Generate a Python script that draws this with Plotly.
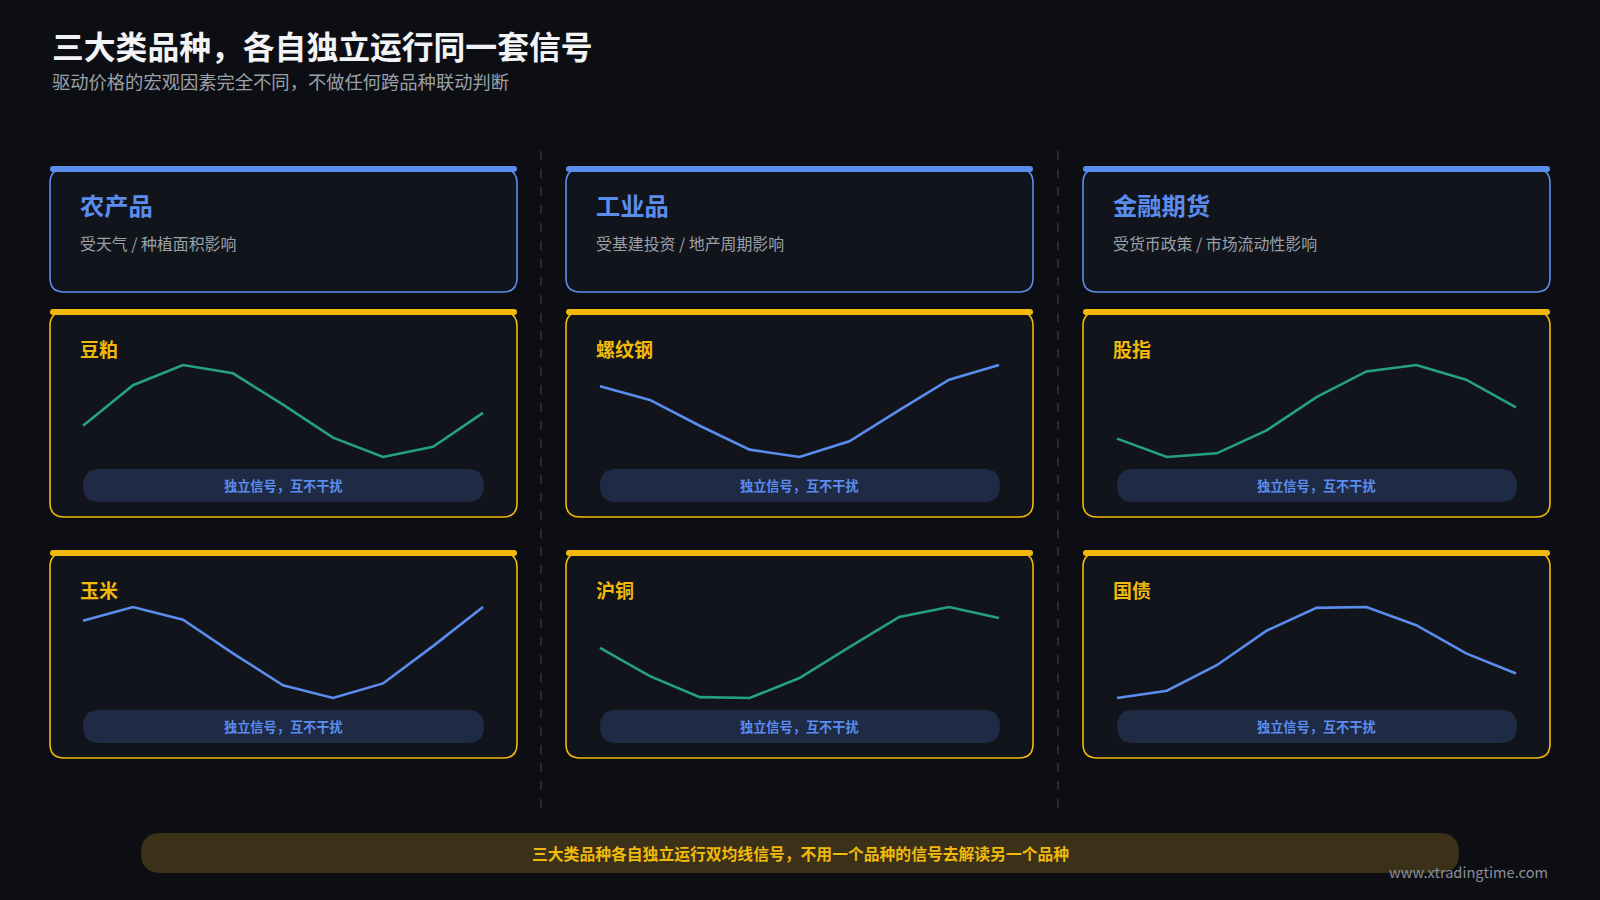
import plotly.graph_objects as go

# ---------------- data ----------------
periods = [1, 2, 3, 4, 5, 6, 7, 8, 9]

sector_names = ["农产品", "工业品", "金融期货"]
sector_desc = ["受天气 / 种植面积影响", "受基建投资 / 地产周期影响", "受货币政策 / 市场流动性影响"]

row1_names = ["豆粕", "螺纹钢", "股指"]
row2_names = ["玉米", "沪铜", "国债"]

soybean_meal = [34, 78, 100, 91, 57, 21, 0, 11, 48]
rebar = [77, 62, 34, 8, 0, 17, 51, 84, 100]
stock_index = [20, 0, 4, 29, 65, 93, 100, 84, 54]
corn = [85, 100, 86, 49, 14, 0, 16, 57, 100]
copper = [55, 24, 1, 0, 22, 56, 89, 100, 88]
treasury = [0, 8, 36, 74, 99, 100, 80, 49, 27]

title_text = "三大类品种，各自独立运行同一套信号"
subtitle_text = "驱动价格的宏观因素完全不同，不做任何跨品种联动判断"
pill_text = "独立信号，互不干扰"
banner_text = "三大类品种各自独立运行双均线信号，不用一个品种的信号去解读另一个品种"
watermark = "www.xtradingtime.com"

# ---------------- style ----------------
W, H = 1600, 900
BG = "#0d0e13"
CARD = "#11141b"
BLUE = "#5b8def"
YELLOW = "#f0b90b"
TEAL = "#26a085"
PILL = "#1f2a44"
GREY = "#9aa0a8"
FONT = "Noto Sans CJK SC"

col_x = [(50, 517), (566, 1033), (1083, 1550)]
chart_x = [(83, 483), (600, 999), (1117, 1516)]
header_y = (169, 292)
card_rows_y = [(312, 517), (553, 758)]
chart_rows_y = [(365, 457), (607, 698)]


def px(x):
    return x / W


def py(y):
    return 1 - y / H


def rrect(x0, y0, x1, y1, r):
    pts = [
        f"M {px(x0 + r)},{py(y0)}",
        f"L {px(x1 - r)},{py(y0)}",
        f"Q {px(x1)},{py(y0)} {px(x1)},{py(y0 + r)}",
        f"L {px(x1)},{py(y1 - r)}",
        f"Q {px(x1)},{py(y1)} {px(x1 - r)},{py(y1)}",
        f"L {px(x0 + r)},{py(y1)}",
        f"Q {px(x0)},{py(y1)} {px(x0)},{py(y1 - r)}",
        f"L {px(x0)},{py(y0 + r)}",
        f"Q {px(x0)},{py(y0)} {px(x0 + r)},{py(y0)}",
        "Z",
    ]
    return " ".join(pts)


shapes = []
annotations = []


def card(x0, y0, x1, y1, color):
    shapes.append(dict(type="path", xref="paper", yref="paper", layer="below",
                       path=rrect(x0, y0, x1, y1, 14), fillcolor=CARD,
                       line=dict(color=color, width=1.6)))
    shapes.append(dict(type="path", xref="paper", yref="paper", layer="below",
                       path=rrect(x0, y0 - 3, x1, y0 + 3, 3), fillcolor=color,
                       line=dict(width=0)))


def text(x, y, s, size, color, weight="normal", xanchor="left"):
    annotations.append(dict(x=px(x), y=py(y), xref="paper", yref="paper", text=s,
                            showarrow=False, xanchor=xanchor, yanchor="middle",
                            font=dict(family=FONT, size=size, color=color, weight=weight)))


# title
text(50, 45, title_text, 31.8, "#f2f3f5", "bold")
text(50, 81, subtitle_text, 18.3, GREY)

# dividers
for dx in (541, 1058):
    shapes.append(dict(type="line", xref="paper", yref="paper", layer="below",
                       x0=px(dx), x1=px(dx), y0=py(151), y1=py(809),
                       line=dict(color="#3a3d46", width=1.2, dash="dash")))

# header cards
for i, (x0, x1) in enumerate(col_x):
    card(x0, header_y[0], x1, header_y[1], BLUE)
    text(x0 + 28, 204, sector_names[i], 24.3, BLUE, "bold")
    text(x0 + 28, 244, sector_desc[i], 15.9, GREY)

# mini chart cards
series_rows = [[soybean_meal, rebar, stock_index], [corn, copper, treasury]]
names_rows = [row1_names, row2_names]
color_rows = [[TEAL, BLUE, TEAL], [BLUE, TEAL, BLUE]]

fig = go.Figure()
layout_axes = {}
pad = 8
k = 0
for r, (cy0, cy1) in enumerate(card_rows_y):
    for c, (x0, x1) in enumerate(col_x):
        card(x0, cy0, x1, cy1, YELLOW)
        text(x0 + 28, cy0 + 36, names_rows[r][c], 19, YELLOW, "bold")
        # pill
        pl, pr = chart_x[c]
        shapes.append(dict(type="path", xref="paper", yref="paper", layer="below",
                           path=rrect(pl, cy0 + 157, pr + 1, cy0 + 190, 16.5),
                           fillcolor=PILL, line=dict(width=0)))
        text((pl + pr) / 2, cy0 + 173.5, pill_text, 13.2, BLUE, "bold", "center")

        # chart
        k += 1
        gx0, gx1 = chart_x[c]
        gy0, gy1 = chart_rows_y[r]
        xs = (periods[-1] - periods[0]) / (gx1 - gx0)
        ys = 100 / (gy1 - gy0)
        xa = "xaxis" if k == 1 else f"xaxis{k}"
        ya = "yaxis" if k == 1 else f"yaxis{k}"
        layout_axes[xa] = dict(domain=[px(gx0 - pad), px(gx1 + pad)],
                               range=[periods[0] - pad * xs, periods[-1] + pad * xs],
                               visible=False, fixedrange=True,
                               anchor="y" if k == 1 else f"y{k}")
        layout_axes[ya] = dict(domain=[py(gy1 + pad), py(gy0 - pad)],
                               range=[-pad * ys, 100 + pad * ys],
                               visible=False, fixedrange=True,
                               anchor="x" if k == 1 else f"x{k}")
        fig.add_trace(go.Scatter(x=periods, y=series_rows[r][c], mode="lines",
                                 line=dict(color=color_rows[r][c], width=2.6),
                                 xaxis="x" if k == 1 else f"x{k}",
                                 yaxis="y" if k == 1 else f"y{k}",
                                 hoverinfo="skip", showlegend=False))

# banner
shapes.append(dict(type="path", xref="paper", yref="paper", layer="below",
                   path=rrect(141, 833, 1459, 873, 20), fillcolor="#3a3118",
                   line=dict(width=0)))
text(800, 853.5, banner_text, 15.8, YELLOW, "bold", "center")
text(1550, 871, watermark, 14.6, "#8a8f98", "normal", "right")

fig.update_layout(width=W, height=H, margin=dict(l=0, r=0, t=0, b=0),
                  paper_bgcolor=BG, plot_bgcolor="rgba(0,0,0,0)",
                  shapes=shapes, annotations=annotations, showlegend=False,
                  **layout_axes)

fig.write_html("out.html", config={"displayModeBar": False},
               post_script="document.body.style.margin='0';document.body.style.background='" + BG + "';")
